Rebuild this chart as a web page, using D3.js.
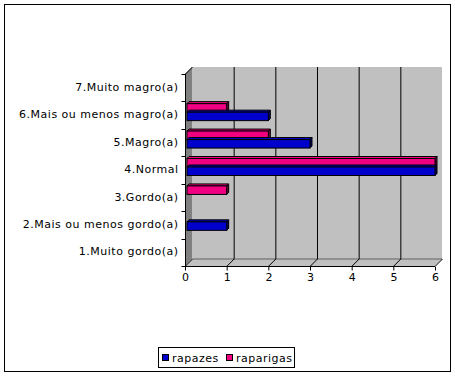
<!DOCTYPE html>
<html>
<head>
<meta charset="utf-8">
<script src="https://cdn.jsdelivr.net/npm/d3@7"></script>
<style>
	body { margin: 0; background: #fff; }
	svg text { font-family: "DejaVu Sans", Verdana, sans-serif; font-size: 11px; letter-spacing: 0.5px; fill: #000; }
</style>
</head>
<body>
<svg id="chart" width="455" height="377"></svg>
<script>
	// data, top to bottom as shown
	var categories = [
		'7.Muito magro(a)',
		'6.Mais ou menos magro(a)',
		'5.Magro(a)',
		'4.Normal',
		'3.Gordo(a)',
		'2.Mais ou menos gordo(a)',
		'1.Muito gordo(a)'
	];
	var rapazes = [0, 2, 3, 6, 0, 1, 0];
	var raparigas = [0, 1, 2, 6, 1, 0, 0];
	var xTicks = [0, 1, 2, 3, 4, 5, 6];
	var seriesNames = ['rapazes', 'raparigas'];

	var colors = {
		rapazes: { face: '#0000cc', side: '#000070' },
		raparigas: { face: '#f00080', side: '#780040' }
	};

	var svg = d3.select('#chart');

	// outer frame
	svg.append('rect')
		.attr('x', 4.5).attr('y', 4.5)
		.attr('width', 446).attr('height', 367)
		.attr('fill', '#fff').attr('stroke', '#000');

	// plot geometry (front face of the 3D box)
	var pLeft = 185, pRight = 435, pTop = 74, pBottom = 266;
	var dx = 7, dy = -7; // depth of walls

	var x = d3.scaleLinear().domain([0, 6]).range([pLeft, pRight]);
	var y = d3.scaleBand().domain(categories).range([pTop, pBottom]);

	var g = svg.append('g');

	// back wall
	g.append('rect')
		.attr('x', pLeft + dx).attr('y', pTop + dy)
		.attr('width', pRight - pLeft).attr('height', pBottom - pTop)
		.attr('fill', '#c0c0c0');

	// side wall
	g.append('polygon')
		.attr('points', [[pLeft, pTop], [pLeft + dx, pTop + dy], [pLeft + dx, pBottom + dy], [pLeft, pBottom]].join(' '))
		.attr('fill', '#808080');

	// floor
	g.append('polygon')
		.attr('points', [[pLeft, pBottom], [pLeft + dx, pBottom + dy], [pRight + dx, pBottom + dy], [pRight, pBottom]].join(' '))
		.attr('fill', '#c0c0c0');

	// gridlines on back wall + floor
	xTicks.forEach(function(t) {
		if (t > 0 && t < 6) {
			g.append('line')
				.attr('x1', x(t) + dx + 0.5).attr('x2', x(t) + dx + 0.5)
				.attr('y1', pTop + dy).attr('y2', pBottom + dy)
				.attr('stroke', '#000');
		}
		g.append('line')
			.attr('x1', x(t) + dx + 0.5).attr('y1', pBottom + dy)
			.attr('x2', x(t) + 0.5).attr('y2', pBottom)
			.attr('stroke', '#000');
	});
	g.append('line')
		.attr('x1', pLeft + dx + 0.5).attr('y1', pBottom + dy)
		.attr('x2', pRight + dx).attr('y2', pBottom + dy)
		.attr('stroke', '#000').attr('stroke-opacity', 0.5);
	g.append('line')
		.attr('x1', pLeft + 0.5).attr('y1', pTop)
		.attr('x2', pLeft + dx + 0.5).attr('y2', pTop + dy)
		.attr('stroke', '#000');

	// bars
	var barH = 8.5, bd = 2;
	var rows = categories.map(function(c, i) {
		return [
			{ cat: c, name: 'raparigas', value: raparigas[i], slot: 0 },
			{ cat: c, name: 'rapazes', value: rapazes[i], slot: 1 }
		];
	});
	var bars = [].concat.apply([], rows).filter(function(d) { return d.value > 0; });

	function barY(d) {
		return y(d.cat) + y.bandwidth() / 2 - barH - 3 + d.slot * barH;
	}

	var bg = g.selectAll('g.bar').data(bars).enter().append('g').attr('class', 'bar');

	// top face
	bg.append('polygon')
		.attr('points', function(d) {
			var x0 = x(0) + 2, x1 = x(d.value), y0 = barY(d);
			return [[x0, y0], [x0 + bd, y0 - bd], [x1 + bd, y0 - bd], [x1, y0]].join(' ');
		})
		.attr('fill', function(d) { return colors[d.name].face; })
		.attr('stroke', '#000').attr('stroke-width', 1);
	// side face
	bg.append('polygon')
		.attr('points', function(d) {
			var x1 = x(d.value), y0 = barY(d);
			return [[x1, y0], [x1 + bd, y0 - bd], [x1 + bd, y0 + barH - bd], [x1, y0 + barH]].join(' ');
		})
		.attr('fill', function(d) { return colors[d.name].side; })
		.attr('stroke', '#000').attr('stroke-width', 1);
	// front face
	bg.append('rect')
		.attr('x', x(0) + 2)
		.attr('y', barY)
		.attr('width', function(d) { return x(d.value) - x(0) - 2; })
		.attr('height', barH)
		.attr('fill', function(d) { return colors[d.name].face; })
		.attr('stroke', '#000').attr('stroke-width', 1);

	// x axis
	var xAxis = d3.axisBottom(x).tickValues(xTicks).tickSize(4).tickPadding(3).tickFormat(d3.format('d'));
	var xa = svg.append('g').attr('transform', 'translate(0,' + (pBottom + 0.5) + ')').call(xAxis);
	xa.select('.domain').attr('stroke', '#000').attr('d', 'M' + pLeft + ',0H' + pRight);
	xa.selectAll('text').attr('dx', '0.3px');

	// category axis
	var yAxis = d3.axisLeft(y).tickSize(0).tickPadding(7);
	var ya = svg.append('g').attr('transform', 'translate(' + (pLeft + 0.5) + ',0)').call(yAxis);
	ya.select('.domain').attr('stroke', '#000').attr('d', 'M0,' + pTop + 'V' + pBottom);
	ya.selectAll('text').attr('dy', '0.28em');
	// category boundary ticks
	var bounds = categories.map(function(c) { return y(c); }).concat([pBottom]);
	ya.selectAll('line.bnd').data(bounds).enter().append('line')
		.attr('class', 'bnd')
		.attr('x1', -4).attr('x2', 0)
		.attr('y1', function(d) { return Math.round(d) + 0.5; })
		.attr('y2', function(d) { return Math.round(d) + 0.5; })
		.attr('stroke', '#000');

	// legend
	var lg = svg.append('g').attr('transform', 'translate(158,347)');
	lg.append('rect').attr('x', 0.5).attr('y', 0.5).attr('width', 136).attr('height', 20)
		.attr('fill', '#fff').attr('stroke', '#000');
	var items = lg.selectAll('g.item').data(seriesNames).enter().append('g')
		.attr('class', 'item')
		.attr('transform', function(d, i) { return 'translate(' + (4 + i * 64) + ',0)'; });
	items.append('rect').attr('x', 0.5).attr('y', 7.5).attr('width', 6).attr('height', 6)
		.attr('fill', function(d) { return colors[d].face; })
		.attr('stroke', '#000');
	items.append('text').attr('x', 10).attr('y', 14.5).text(function(d) { return d; });
</script>
</body>
</html>
